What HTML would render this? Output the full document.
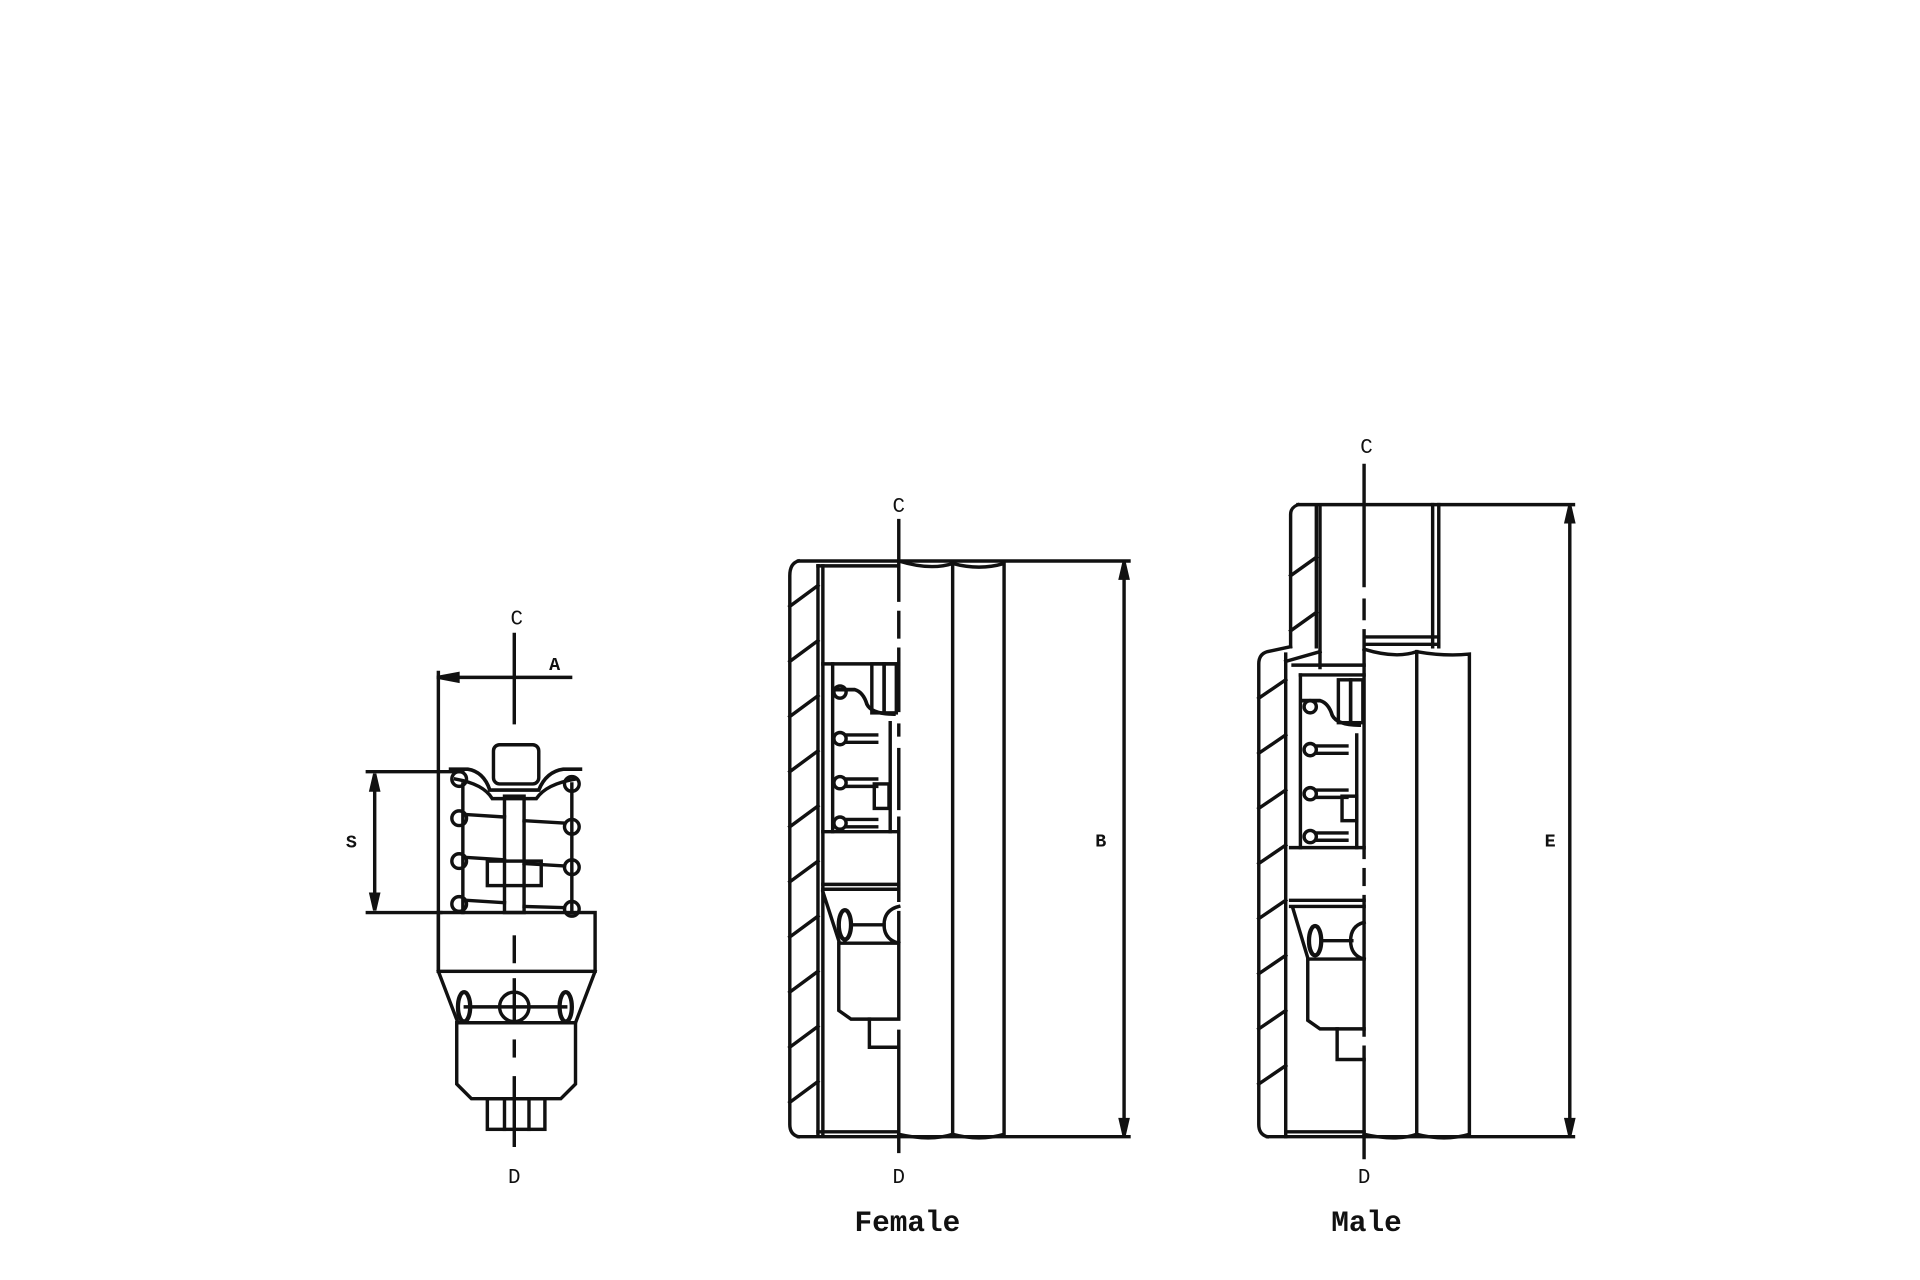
<!DOCTYPE html>
<html><head><meta charset="utf-8"><style>
html,body{margin:0;padding:0;background:#fff;}
svg{display:block;}
text{font-family:"Liberation Mono",monospace;fill:#111;}
</style></head><body>
<svg width="1920" height="1280" viewBox="0 0 1568 1045" preserveAspectRatio="none" xmlns="http://www.w3.org/2000/svg">
<g fill="none" stroke="#111" stroke-width="2.8" stroke-linecap="square">
<line x1="420" y1="518" x2="420" y2="590"/>
<line x1="420" y1="765" x2="420" y2="785"/>
<line x1="420" y1="800" x2="420" y2="832"/>
<line x1="420" y1="850" x2="420" y2="862"/>
<line x1="420" y1="880" x2="420" y2="935"/>
<line x1="358" y1="553" x2="466" y2="553"/>
<polygon points="358,553 374,550 374,556" fill="#111"/>
<line x1="358" y1="549" x2="358" y2="793"/>
<line x1="300" y1="630" x2="378" y2="630"/>
<line x1="300" y1="745" x2="360" y2="745"/>
<line x1="306" y1="633" x2="306" y2="742"/>
<polygon points="306,632 303,645 309,645" fill="#111"/>
<polygon points="306,743 303,730 309,730" fill="#111"/>
<rect x="358" y="745" width="128" height="48"/>
<path d="M358 793 L374 835 L470 835 L486 793"/>
<line x1="380" y1="822" x2="462" y2="822"/>
<circle cx="420" cy="822" r="12"/>
<ellipse cx="379" cy="822" rx="5" ry="12" stroke-width="3.5"/>
<ellipse cx="462" cy="822" rx="5" ry="12" stroke-width="3.5"/>
<path d="M373 835 L373 885 L385 897 L458 897 L470 885 L470 835"/>
<rect x="398" y="897" width="47" height="25"/>
<line x1="412" y1="897" x2="412" y2="922"/>
<line x1="432" y1="897" x2="432" y2="922"/>
<line x1="378" y1="640" x2="378" y2="745"/>
<line x1="467" y1="640" x2="467" y2="745"/>
<rect x="412" y="650" width="16" height="95"/>
<rect x="403" y="608" width="37" height="32" rx="5"/>
<path d="M368 628 L382 628 Q395 630 400 645 L440 645 Q446 630 460 628 L474 628" stroke-width="3"/>
<path d="M372 636 Q395 640 402 652 L438 652 Q446 640 470 636"/>
<rect x="398" y="703" width="44" height="20"/>
<circle cx="375" cy="636" r="6"/><circle cx="467" cy="640" r="6"/>
<circle cx="375" cy="668" r="6"/><circle cx="467" cy="675" r="6"/>
<circle cx="375" cy="703" r="6"/><circle cx="467" cy="708" r="6"/>
<circle cx="375" cy="738" r="6"/><circle cx="467" cy="742" r="6"/>
<line x1="381" y1="665" x2="412" y2="667"/><line x1="428" y1="670" x2="461" y2="672"/>
<line x1="381" y1="700" x2="412" y2="702"/><line x1="428" y1="705" x2="461" y2="707"/>
<line x1="381" y1="735" x2="412" y2="737"/><line x1="428" y1="740" x2="461" y2="741"/>

<line x1="652" y1="458" x2="922" y2="458"/>
<line x1="652" y1="928" x2="922" y2="928"/>
<path d="M652 458 Q645 460 645 470 L645 918 Q645 926 652 928"/>
<line x1="668" y1="462" x2="668" y2="926"/>
<line x1="672" y1="462" x2="672" y2="926"/>
<line x1="668" y1="462" x2="734" y2="462"/>
<line x1="668" y1="924" x2="734" y2="924"/>
<line x1="645" y1="495" x2="668" y2="478"/>
<line x1="645" y1="540" x2="668" y2="523"/>
<line x1="645" y1="585" x2="668" y2="568"/>
<line x1="645" y1="630" x2="668" y2="613"/>
<line x1="645" y1="675" x2="668" y2="658"/>
<line x1="645" y1="720" x2="668" y2="703"/>
<line x1="645" y1="765" x2="668" y2="748"/>
<line x1="645" y1="810" x2="668" y2="793"/>
<line x1="645" y1="855" x2="668" y2="838"/>
<line x1="645" y1="900" x2="668" y2="883"/>
<path d="M734 458 Q760 466 778 460 Q800 466 820 460 L820 926 Q800 932 778 926 Q760 932 734 926"/>
<line x1="778" y1="460" x2="778" y2="926"/>
<line x1="918" y1="461" x2="918" y2="925"/>
<polygon points="918,459 915,472 921,472" fill="#111"/>
<polygon points="918,927 915,914 921,914" fill="#111"/>
<line x1="734" y1="425" x2="734" y2="490"/>
<line x1="734" y1="500" x2="734" y2="520"/>
<line x1="734" y1="530" x2="734" y2="580"/>
<line x1="734" y1="592" x2="734" y2="600"/>
<line x1="734" y1="612" x2="734" y2="660"/>
<line x1="734" y1="668" x2="734" y2="735"/>
<line x1="734" y1="745" x2="734" y2="830"/>
<line x1="734" y1="842" x2="734" y2="940"/>
<line x1="672" y1="542" x2="734" y2="542"/>
<line x1="680" y1="542" x2="680" y2="679"/>
<line x1="672" y1="679" x2="734" y2="679"/>
<line x1="672" y1="722" x2="734" y2="722"/>
<line x1="672" y1="726" x2="734" y2="726"/>
<rect x="712" y="542" width="10" height="40"/>
<rect x="722" y="542" width="10" height="40"/>
<path d="M682 563 L698 563 Q705 565 708 575 Q712 583 730 583" stroke-width="3"/>
<circle cx="686" cy="565" r="5"/><circle cx="686" cy="603" r="5"/>
<circle cx="686" cy="639" r="5"/><circle cx="686" cy="672" r="5"/>
<line x1="691" y1="600" x2="716" y2="600"/><line x1="691" y1="606" x2="716" y2="606"/>
<line x1="691" y1="636" x2="716" y2="636"/><line x1="691" y1="642" x2="716" y2="642"/>
<line x1="691" y1="669" x2="716" y2="669"/><line x1="691" y1="675" x2="716" y2="675"/>
<line x1="727" y1="590" x2="727" y2="679"/>
<rect x="714" y="640" width="12" height="20"/>
<path d="M672 728 L685 768"/>
<ellipse cx="690" cy="755" rx="5" ry="12" stroke-width="3.5"/>
<line x1="695" y1="755" x2="722" y2="755"/>
<path d="M734 740 Q722 743 722 755 Q722 767 734 770"/>
<path d="M685 770 L734 770 M685 770 L685 825 L695 832 L734 832"/>
<path d="M710 832 L710 855 L734 855"/>

<line x1="1060" y1="412" x2="1285" y2="412"/>
<line x1="1035" y1="928" x2="1285" y2="928"/>
<path d="M1060 412 Q1054 414 1054 420 L1054 528"/>
<line x1="1075" y1="414" x2="1075" y2="528"/>
<line x1="1078" y1="414" x2="1078" y2="545"/>
<line x1="1175" y1="412" x2="1175" y2="528"/>
<line x1="1170" y1="412" x2="1170" y2="528"/>
<line x1="1115" y1="520" x2="1175" y2="520"/>
<line x1="1115" y1="526" x2="1175" y2="526"/>
<path d="M1054 528 L1035 532 Q1028 534 1028 542 L1028 918 Q1028 926 1035 928"/>
<line x1="1050" y1="534" x2="1050" y2="928"/>
<line x1="1054" y1="470" x2="1075" y2="455"/>
<line x1="1054" y1="515" x2="1075" y2="500"/>
<line x1="1028" y1="570" x2="1050" y2="555"/>
<line x1="1028" y1="615" x2="1050" y2="600"/>
<line x1="1028" y1="660" x2="1050" y2="645"/>
<line x1="1028" y1="705" x2="1050" y2="690"/>
<line x1="1028" y1="750" x2="1050" y2="735"/>
<line x1="1028" y1="795" x2="1050" y2="780"/>
<line x1="1028" y1="840" x2="1050" y2="825"/>
<line x1="1028" y1="885" x2="1050" y2="870"/>
<line x1="1050" y1="540" x2="1078" y2="532"/>
<path d="M1114 530 Q1140 538 1157 532 Q1180 536 1200 534 L1200 926 Q1180 932 1157 926 Q1140 932 1114 926"/>
<line x1="1157" y1="532" x2="1157" y2="926"/>
<line x1="1050" y1="924" x2="1114" y2="924"/>
<line x1="1282" y1="415" x2="1282" y2="925"/>
<polygon points="1282,413 1279,426 1285,426" fill="#111"/>
<polygon points="1282,927 1279,914 1285,914" fill="#111"/>
<line x1="1114" y1="380" x2="1114" y2="478"/>
<line x1="1114" y1="490" x2="1114" y2="505"/>
<line x1="1114" y1="515" x2="1114" y2="700"/>
<line x1="1114" y1="710" x2="1114" y2="722"/>
<line x1="1114" y1="732" x2="1114" y2="845"/>
<line x1="1114" y1="855" x2="1114" y2="945"/>
<line x1="1056" y1="543" x2="1114" y2="543"/>
<line x1="1062" y1="551" x2="1114" y2="551"/>
<line x1="1062" y1="551" x2="1062" y2="692"/>
<line x1="1054" y1="692" x2="1114" y2="692"/>
<line x1="1054" y1="735" x2="1114" y2="735"/>
<line x1="1054" y1="740" x2="1114" y2="740"/>
<rect x="1093" y="555" width="10" height="35"/>
<rect x="1103" y="555" width="10" height="35"/>
<path d="M1064 572 L1078 572 Q1085 574 1088 584 Q1092 592 1110 592" stroke-width="3"/>
<circle cx="1070" cy="577" r="5"/><circle cx="1070" cy="612" r="5"/>
<circle cx="1070" cy="648" r="5"/><circle cx="1070" cy="683" r="5"/>
<line x1="1075" y1="609" x2="1100" y2="609"/><line x1="1075" y1="615" x2="1100" y2="615"/>
<line x1="1075" y1="645" x2="1100" y2="645"/><line x1="1075" y1="651" x2="1100" y2="651"/>
<line x1="1075" y1="680" x2="1100" y2="680"/><line x1="1075" y1="686" x2="1100" y2="686"/>
<line x1="1108" y1="600" x2="1108" y2="692"/>
<rect x="1096" y="650" width="12" height="20"/>
<path d="M1056 742 L1068 782"/>
<ellipse cx="1074" cy="768" rx="5" ry="12" stroke-width="3.5"/>
<line x1="1079" y1="768" x2="1104" y2="768"/>
<path d="M1114 753 Q1103 756 1103 768 Q1103 780 1114 783"/>
<path d="M1068 783 L1114 783 M1068 783 L1068 833 L1078 840 L1114 840"/>
<path d="M1092 840 L1092 865 L1114 865"/>
</g>
<g font-size="17" text-anchor="middle" font-weight="bold">
<text x="422" y="510" font-weight="normal">C</text>
<text x="453" y="547" font-size="15">A</text>
<text x="287" y="692" font-size="15">S</text>
<text x="420" y="966" font-weight="normal">D</text>
<text x="734" y="418" font-weight="normal">C</text>
<text x="734" y="966" font-weight="normal">D</text>
<text x="899" y="691" font-size="15">B</text>
<text x="1116" y="370" font-weight="normal">C</text>
<text x="1114" y="966" font-weight="normal">D</text>
<text x="1266" y="691" font-size="15">E</text>
<text x="741" y="1005" font-size="24">Female</text>
<text x="1116" y="1005" font-size="24">Male</text>
</g>
</svg>
</body></html>
